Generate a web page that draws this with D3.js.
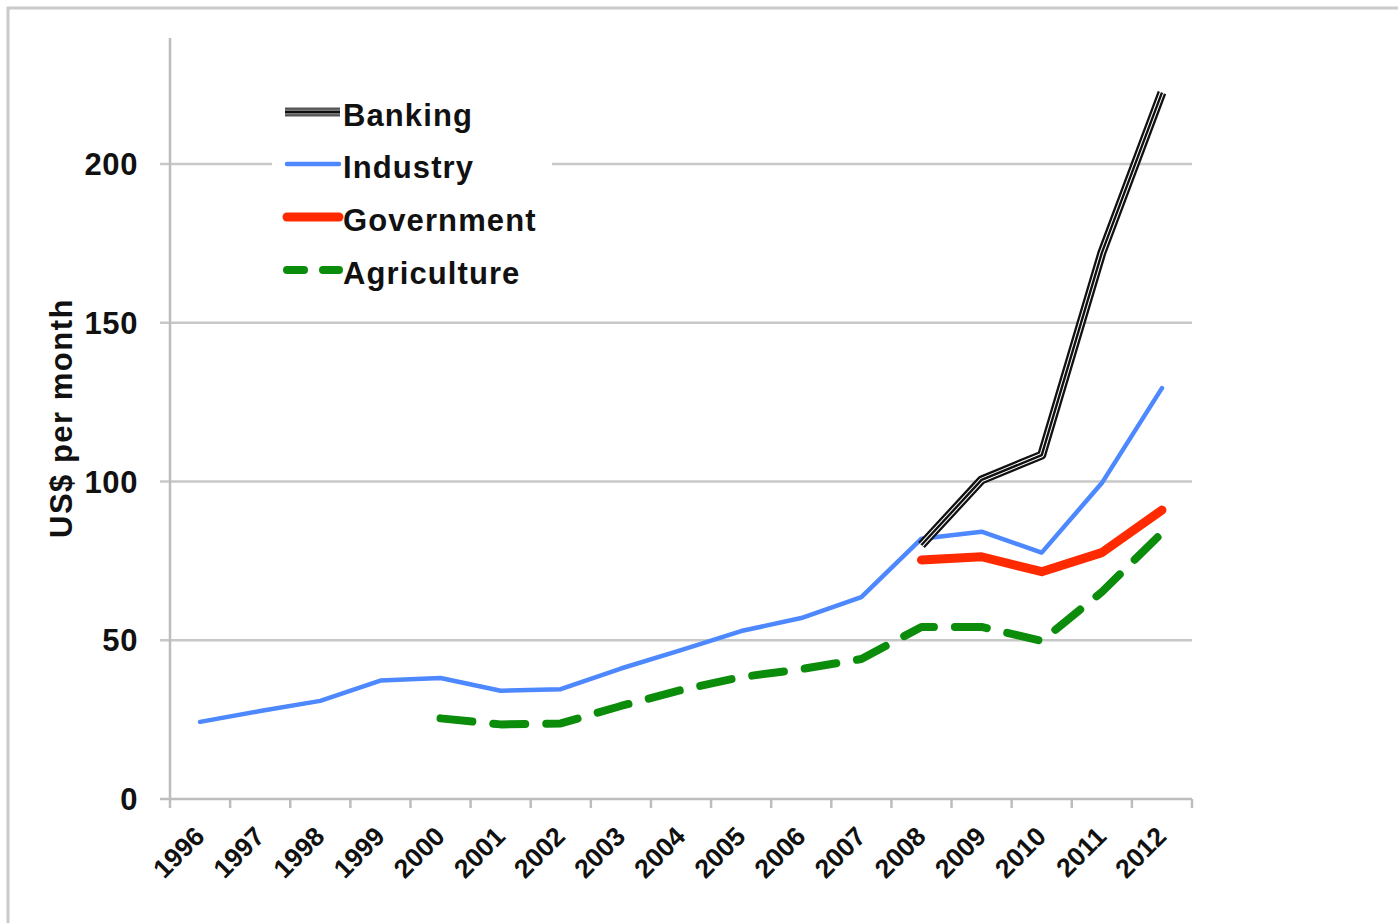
<!DOCTYPE html>
<html>
<head>
<meta charset="utf-8">
<script src="https://cdn.jsdelivr.net/npm/d3@7"></script>
<style>
  body { margin: 0; background: #fff; }
  text { font-family: "Liberation Sans", Arial, sans-serif; font-weight: bold; fill: #111; }
</style>
</head>
<body>
<div id="chart"></div>
<script>
const years = ["1996","1997","1998","1999","2000","2001","2002","2003","2004",
  "2005","2006","2007","2008","2009","2010","2011","2012"];

// null = no data for that year
const banking = [null,null,null,null,null,null,null,null,null,null,null,null,
  80, 100.5, 108.3, 172, 222.5];
const industry = [24.3, 27.7, 30.9, 37.3, 38.1, 34.1, 34.6, 41.1, 46.9,
  52.9, 57.0, 63.6, 82.0, 84.2, 77.6, 99.5, 129.4];
const government = [null,null,null,null,null,null,null,null,null,null,null,null,
  75.3, 76.3, 71.6, 77.6, 91];
const agriculture = [null,null,null,null,25.4, 23.5, 23.8, 29.3, 34.3,
  38.4, 40.9, 44.1, 54.2, 54.2, 49.8, 65.2, 83.8];

const yTicks = [0, 50, 100, 150, 200];
const seriesNames = ["Banking", "Industry", "Government", "Agriculture"];

const width = 1398;
const height = 923;

const svg = d3.select("#chart")
  .append("svg")
  .attr("width", width)
  .attr("height", height);

// outer frame
svg.append("rect")
  .attr("x", 8).attr("y", 8)
  .attr("width", 1500).attr("height", 1000)
  .attr("fill", "none")
  .attr("stroke", "#cacaca")
  .attr("stroke-width", 3);

const x = d3.scaleBand()
  .domain(years)
  .range([170, 1192]);

const y = d3.scaleLinear()
  .domain([0, 240])
  .range([799, 37]);

const cx = d => x(d) + x.bandwidth() / 2;

// gridlines + y ticks
svg.append("g")
  .selectAll("line")
  .data(yTicks.filter(d => d > 0))
  .enter().append("line")
  .attr("x1", 160).attr("x2", 1192)
  .attr("y1", d => y(d)).attr("y2", d => y(d))
  .attr("stroke", "#c8c8c8")
  .attr("stroke-width", 2.5);

svg.append("line")
  .attr("x1", 160).attr("x2", 170)
  .attr("y1", y(0)).attr("y2", y(0))
  .attr("stroke", "#bdbdbd").attr("stroke-width", 2.5);

svg.append("g")
  .selectAll("text")
  .data(yTicks)
  .enter().append("text")
  .attr("x", 138)
  .attr("y", d => y(d))
  .attr("dy", "0.36em")
  .attr("text-anchor", "end")
  .attr("font-size", 31)
  .attr("letter-spacing", 0.6)
  .text(d => d);

// axes
svg.append("line")
  .attr("x1", 170).attr("x2", 170)
  .attr("y1", 38).attr("y2", 800)
  .attr("stroke", "#bdbdbd").attr("stroke-width", 2.5);

svg.append("line")
  .attr("x1", 170).attr("x2", 1192)
  .attr("y1", 799).attr("y2", 799)
  .attr("stroke", "#bdbdbd").attr("stroke-width", 2.5);

const tickPos = years.map(d => x(d)).concat([x(years[years.length - 1]) + x.bandwidth()]);
svg.append("g")
  .selectAll("line")
  .data(tickPos)
  .enter().append("line")
  .attr("x1", d => d).attr("x2", d => d)
  .attr("y1", 799).attr("y2", 808)
  .attr("stroke", "#bdbdbd").attr("stroke-width", 2.5);

svg.append("g")
  .selectAll("text")
  .data(years)
  .enter().append("text")
  .attr("text-anchor", "end")
  .attr("font-size", 26.5)
  .attr("transform", d => `translate(${cx(d) + 6},838) rotate(-45)`)
  .text(d => d);

svg.append("text")
  .attr("transform", "translate(72,418) rotate(-90)")
  .attr("text-anchor", "middle")
  .attr("font-size", 31)
  .attr("letter-spacing", 1.5)
  .text("US$ per month");

// lines
const line = d3.line()
  .defined(d => d.v != null)
  .x(d => cx(d.year))
  .y(d => y(d.v));

const rows = arr => years.map((year, i) => ({ year, v: arr[i] }));

svg.append("path")
  .datum(rows(agriculture))
  .attr("d", line)
  .attr("fill", "none")
  .attr("stroke", "#0b8c0b")
  .attr("stroke-width", 8)
  .attr("stroke-linecap", "round")
  .attr("stroke-linejoin", "round")
  .attr("stroke-dasharray", "32,21");

svg.append("path")
  .datum(rows(government))
  .attr("d", line)
  .attr("fill", "none")
  .attr("stroke", "#ff2a00")
  .attr("stroke-width", 9)
  .attr("stroke-linecap", "round")
  .attr("stroke-linejoin", "round");

svg.append("path")
  .datum(rows(industry))
  .attr("d", line)
  .attr("fill", "none")
  .attr("stroke", "#4d88ff")
  .attr("stroke-width", 4.5)
  .attr("stroke-linecap", "round")
  .attr("stroke-linejoin", "round");

// banking: triple stroke look
const bankStrokes = [["#111", 9], ["#fff", 4.4], ["#111", 2.4]];
bankStrokes.forEach(([c, w]) => {
  svg.append("path")
    .datum(rows(banking))
    .attr("d", line)
    .attr("fill", "none")
    .attr("stroke", c)
    .attr("stroke-width", w)
    .attr("stroke-linejoin", "round");
});

// legend
svg.append("rect")
  .attr("x", 272).attr("y", 84)
  .attr("width", 280).attr("height", 216)
  .attr("fill", "#fff");

const legendY = [112, 164, 217, 270];
const lg = svg.append("g");

[["#555", 9], ["#999", 4.4], ["#111", 2.4]].forEach(([c, w]) => {
  lg.append("line")
    .attr("x1", 285).attr("x2", 340)
    .attr("y1", legendY[0]).attr("y2", legendY[0])
    .attr("stroke", c).attr("stroke-width", w);
});
lg.append("line")
  .attr("x1", 287).attr("x2", 339)
  .attr("y1", legendY[1]).attr("y2", legendY[1])
  .attr("stroke", "#4d88ff").attr("stroke-width", 4.5)
  .attr("stroke-linecap", "round");
lg.append("line")
  .attr("x1", 287).attr("x2", 339)
  .attr("y1", legendY[2]).attr("y2", legendY[2])
  .attr("stroke", "#ff2a00").attr("stroke-width", 9)
  .attr("stroke-linecap", "round");
lg.append("line")
  .attr("x1", 287).attr("x2", 339)
  .attr("y1", legendY[3]).attr("y2", legendY[3])
  .attr("stroke", "#0b8c0b").attr("stroke-width", 8)
  .attr("stroke-linecap", "round")
  .attr("stroke-dasharray", "17,19");

lg.selectAll("text")
  .data(seriesNames)
  .enter().append("text")
  .attr("x", 343)
  .attr("y", (d, i) => legendY[i] + 3)
  .attr("dy", "0.36em")
  .attr("font-size", 31)
  .attr("letter-spacing", 1.1)
  .text(d => d);
</script>
</body>
</html>
